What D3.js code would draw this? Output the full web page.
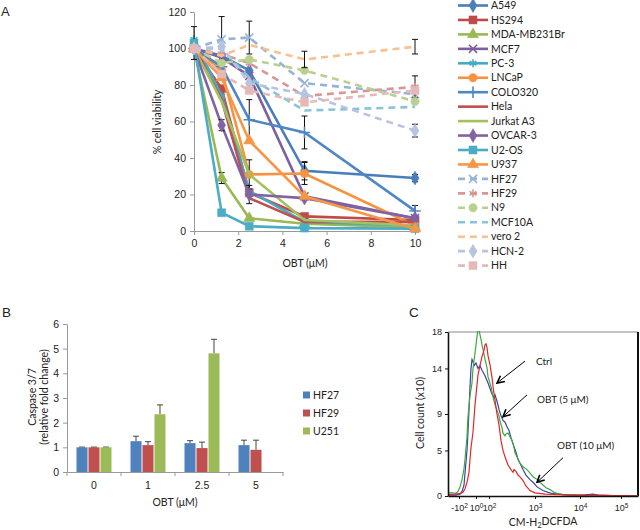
<!DOCTYPE html>
<html>
<head>
<meta charset="utf-8">
<script src="https://cdn.jsdelivr.net/npm/d3@7"></script>
<style>
    body { margin: 0; background: #fff; }
    svg { font-family: Lato, "Liberation Sans", sans-serif; }
</style>
</head>
<body>
<svg id="fig" width="640" height="530"></svg>
<script>
// ---------- Panel A data: % cell viability vs OBT dose ----------
const doses = [0, 1.25, 2.5, 5, 10];
const aXTicks = [0, 2, 4, 6, 8, 10];
const aYTicks = [0, 20, 40, 60, 80, 100, 120];
const cellLines = ["A549", "HS294", "MDA-MB231Br", "MCF7", "PC-3", "LNCaP", "COLO320", "Hela",
    "Jurkat A3", "OVCAR-3", "U2-OS", "U937", "HF27", "HF29", "N9", "MCF10A", "vero 2", "HCN-2", "HH"];
const lineColors = ["#4A7EBB", "#BE4B48", "#98B954", "#7D60A0", "#46AAC5", "#F69240", "#4F86C6", "#C0504D",
    "#A3C25E", "#8064A2", "#4BACC6", "#F79646", "#95B3D7", "#D99694", "#B9D08E", "#86C5D8", "#FAC090", "#B7C3E0", "#E6B9B8"];
const lineMarkers = ["diamond", "square", "triangle", "times", "asterisk", "circle", "plus", null,
    null, "diamond", "square", "triangle", "times", "asterisk", "circle", null, null, "diamond", "square"];
const lineDashed = [false, false, false, false, false, false, false, false,
    false, false, false, false, true, true, true, true, true, true, true];
const viability = [
    [100, 96, 88, 33, 29],    // A549
    [100, 78, 21, 8, 6],      // HS294
    [100, 29, 7, 4, 2],       // MDA-MB231Br
    [100, 95, 85, 19, 7],     // MCF7
    [105, 74, 22, 5, 3],      // PC-3
    [100, 88, 31, 31.5, 3],   // LNCaP
    [100, 90, 61, 54, 11],    // COLO320
    [100, 72, 18, 5, 5],      // Hela
    [100, 71, 31, 6, 3],      // Jurkat A3
    [100, 58, 20, 18, 7],     // OVCAR-3
    [103, 10, 2.6, 1.6, 1.3], // U2-OS
    [100, 84, 49.5, 19, 1.3], // U937
    [100, 105, 106, 81, 75],  // HF27
    [100, 97, 92, 74, 79],    // HF29
    [100, 92, 94, 88, 71],    // N9
    [100, 100, 84, 66, 68],   // MCF10A
    [100, 96, 102, 94, 101],  // vero 2
    [100, 101, 81, 75, 55],   // HCN-2
    [100, 86, 77, 70.5, 77]   // HH
];
const viabilityErr = [
    [0, 0, 0, 5, 2], [0, 0, 0, 0, 0], [0, 3, 0, 0, 0], [0, 0, 0, 0, 0], [0, 0, 0, 0, 0],
    [0, 0, 8, 6, 0], [0, 0, 11, 9, 3], [0, 0, 0, 0, 0], [0, 0, 0, 0, 0], [0, 3, 5, 0, 0],
    [9, 0, 0, 0, 0], [0, 0, 0, 0, 0], [0, 12.5, 9, 0, 0], [0, 0, 0, 0, 6], [0, 0, 0, 0, 0],
    [0, 0, 0, 0, 0], [0, 0, 0, 4.5, 4], [0, 0, 0, 0, 3.5], [0, 0, 0, 0, 0]
];

// ---------- Panel B data: caspase 3/7 fold change ----------
const bDoses = ["0", "1", "2.5", "5"];
const bSeries = ["HF27", "HF29", "U251"];
const bColors = ["#4F81BD", "#C0504D", "#9BBB59"];
const bYTicks = [0, 1, 2, 3, 4, 5, 6];
const caspase = [
    [1.0, 1.25, 1.17, 1.09],
    [1.0, 1.09, 0.97, 0.9],
    [1.0, 2.34, 4.81, null]
];
const caspaseErr = [
    [0.01, 0.2, 0.1, 0.2],
    [0.01, 0.14, 0.24, 0.39],
    [0.01, 0.38, 0.57, null]
];

// ---------- Panel C data: flow histograms (display channel, count x10) ----------
const cYTicks = [0, 5, 9, 14, 18];
const cXTicks = [11, 28, 41, 87, 132, 173];
const cXTickLabels = [["-10", "2"], ["10", "0"], ["10", "2"], ["10", "3"], ["10", "4"], ["10", "5"]];
const histBlue = [[0, 0.1], [8, 0.1], [12, 0.2], [14, 0.5], [16, 1.2], [17, 2.5], [19, 5], [20, 7], [21, 9.5],
    [22, 12], [23, 14], [24, 15], [25, 14.8], [26, 14.3], [28, 14.6], [30, 14], [32, 14.3], [34, 13.8],
    [37, 13.2], [40, 12.4], [42, 11.8], [44, 11.2], [46, 10.8], [47, 11.1], [49, 10.4], [51, 9.5],
    [53, 8.8], [55, 8.3], [57, 8.1], [59, 7.6], [61, 7.2], [63, 6.4], [66, 5.4], [68, 4.8], [70, 4],
    [72, 3.6], [75, 2.9], [78, 2.3], [82, 1.8], [86, 1.4], [89, 1], [95, 0.6], [100, 0.4], [105, 0.25],
    [115, 0.15], [125, 0.1], [135, 0.1], [145, 0.2], [150, 0.1], [165, 0.05], [190, 0.02]];
const histGreen = [[0, 0.35], [5, 0.35], [8, 0.3], [10, 0.5], [12, 1], [14, 1.8], [16, 3], [17, 4], [19, 6.5],
    [20, 8.7], [22, 11], [24, 12.4], [25, 14], [27, 15.7], [29, 17.5], [30, 18.3], [31, 18.2], [33, 17.2],
    [34, 16.6], [36, 15.6], [37, 15], [39, 14.1], [40, 13.1], [43, 12], [45, 10.9], [47, 10], [49, 9.4],
    [51, 8.8], [52, 8.2], [54, 7.5], [55, 6.9], [57, 6.6], [58, 6.8], [60, 6.9], [62, 6.5], [64, 6.1],
    [66, 5.4], [67, 4.7], [69, 4.3], [72, 3.6], [75, 3.2], [79, 2.9], [83, 2.4], [85, 2.1], [88, 1.9],
    [90, 1.8], [92, 1.5], [95, 1.2], [98, 0.9], [102, 0.7], [106, 0.4], [109, 0.3], [115, 0.15],
    [125, 0.1], [140, 0.05], [190, 0.02]];
const histRed = [[0, 0.15], [7, 0.2], [12, 0.25], [15, 0.4], [17, 0.8], [19, 1.5], [21, 2.6], [22, 4],
    [23, 5.3], [25, 7], [27, 10], [29, 12.2], [30, 13.3], [32, 14.3], [34, 15.3], [36, 16], [37, 16.6],
    [38, 16.7], [39, 16.3], [40, 15.4], [42, 14.4], [44, 13], [45, 12], [47, 10.5], [49, 9], [51, 7.8],
    [53, 6.1], [55, 5], [57, 4.3], [60, 3.4], [63, 2.9], [65, 2.6], [66, 2.9], [68, 2.7], [70, 2.3],
    [72, 2.1], [75, 1.7], [78, 1.1], [82, 0.6], [87, 0.35], [97, 0.2], [112, 0.15], [130, 0.1],
    [150, 0.1], [165, 0.05], [190, 0.02]];
// arrows: [tail, head] in (channel, count), label position
const cArrows = [
    { text: "Ctrl", from: [77, 14.8], to: [49, 12.4], at: [88, 14.8] },
    { text: "OBT (5 μM)", from: [79, 11.1], to: [55, 8.7], at: [89, 10.6] },
    { text: "OBT (10 μM)", from: [115, 4.2], to: [89, 1.5], at: [109, 5.5] }
];

const svg = d3.select("#fig");

const symbolMap = {
    diamond: d3.symbolDiamond,
    square: d3.symbolSquare,
    triangle: d3.symbolTriangle,
    circle: d3.symbolCircle,
    times: d3.symbolTimes || d3.symbolCross,
    asterisk: d3.symbolAsterisk || d3.symbolCross,
    plus: d3.symbolPlus || d3.symbolCross
};
const strokeSymbols = ["times", "asterisk", "plus"];

function drawMarker(g, kind, x, y, color) {
    const isStroke = strokeSymbols.includes(kind);
    const size = kind === "square" ? 64 : (kind === "diamond" ? 55 : (isStroke ? 45 : 55));
    g.append("path")
        .attr("d", d3.symbol().type(symbolMap[kind]).size(size)())
        .attr("transform", `translate(${x},${y})`)
        .attr("fill", isStroke ? "none" : color)
        .attr("stroke", color)
        .attr("stroke-width", isStroke ? 1.6 : 0.5);
}

function styleAxis(g, color, fontSize) {
    g.select(".domain").attr("stroke", color);
    g.selectAll(".tick line").attr("stroke", color);
    g.selectAll(".tick text").attr("fill", "#222").attr("font-size", fontSize).attr("font-family", null);
}

// ======================= Panel A =======================
const xA = d3.scaleLinear().domain([0, 10]).range([194, 415]);
const yA = d3.scaleLinear().domain([0, 120]).range([231, 12]);
const gA = svg.append("g");

gA.append("g")
    .attr("transform", "translate(0,231)")
    .call(d3.axisBottom(xA).tickValues(aXTicks).tickSize(4).tickPadding(5).tickSizeOuter(0))
    .call(g => styleAxis(g, "#999", 10.5));
gA.append("g")
    .attr("transform", "translate(194,0)")
    .call(d3.axisLeft(yA).tickValues(aYTicks).tickSize(4).tickPadding(4).tickSizeOuter(0))
    .call(g => styleAxis(g, "#999", 10.5));

gA.append("text").attr("x", 305).attr("y", 267).attr("text-anchor", "middle")
    .attr("font-size", 10.5).attr("fill", "#222").text("OBT (μM)");
gA.append("text").attr("transform", "translate(161,122) rotate(-90)").attr("text-anchor", "middle")
    .attr("font-size", 10.5).attr("fill", "#222").text("% cell viability");
svg.append("text").attr("x", 1).attr("y", 16).attr("font-family", "Liberation Sans, Arial, sans-serif")
    .attr("font-size", 13).attr("fill", "#222").text("A");

const lineA = d3.line().x((d, i) => xA(doses[i])).y(d => yA(d));
cellLines.forEach((name, k) => {
    const g = gA.append("g");
    const vals = viability[k];
    g.append("path")
        .attr("d", lineA(vals))
        .attr("fill", "none")
        .attr("stroke", lineColors[k])
        .attr("stroke-width", 2.6)
        .attr("stroke-dasharray", lineDashed[k] ? "7,5" : null);
    vals.forEach((v, i) => {
        const e = viabilityErr[k][i];
        if (!e) return;
        const x = xA(doses[i]);
        g.append("path")
            .attr("d", `M${x},${yA(v - e)}V${yA(v + e)}M${x - 3},${yA(v - e)}h6M${x - 3},${yA(v + e)}h6`)
            .attr("stroke", "#111").attr("stroke-width", 1).attr("fill", "none");
    });
    if (lineMarkers[k]) {
        vals.forEach((v, i) => drawMarker(g, lineMarkers[k], xA(doses[i]), yA(v), lineColors[k]));
    }
});

// legend for A
const legA = svg.append("g");
cellLines.forEach((name, k) => {
    const y = 5.5 + k * 14.45;
    legA.append("line")
        .attr("x1", 458).attr("x2", 488).attr("y1", y).attr("y2", y)
        .attr("stroke", lineColors[k]).attr("stroke-width", 2.6)
        .attr("stroke-dasharray", lineDashed[k] ? "7,5" : null);
    if (lineMarkers[k]) drawMarker(legA, lineMarkers[k], 473, y, lineColors[k]);
    legA.append("text").attr("x", 491).attr("y", y).attr("dy", "0.35em")
        .attr("font-size", 10.5).attr("fill", "#222").text(name);
});

// ======================= Panel B =======================
const xB = d3.scaleBand().domain(bDoses).range([67, 283]);
const xBInner = d3.scaleBand().domain(bSeries).range([9.5, 44.5]).paddingInner(0.08);
const yB = d3.scaleLinear().domain([0, 6]).range([472, 324]);
const gB = svg.append("g");

gB.append("g")
    .attr("transform", "translate(67,0)")
    .call(d3.axisLeft(yB).tickValues(bYTicks).tickFormat(d3.format("d")).tickSize(4).tickPadding(4).tickSizeOuter(0))
    .call(g => styleAxis(g, "#999", 10.5));
const xAxisB = gB.append("g")
    .attr("transform", "translate(0,472)")
    .call(d3.axisBottom(xB).tickSize(0).tickPadding(10).tickSizeOuter(0))
    .call(g => styleAxis(g, "#999", 10.5));
// category boundary ticks, as Excel draws them
xAxisB.selectAll(".bound").data(bDoses.concat(["end"])).join("line")
    .attr("class", "bound")
    .attr("x1", (d, i) => 67 + i * xB.step()).attr("x2", (d, i) => 67 + i * xB.step())
    .attr("y1", 0).attr("y2", 4).attr("stroke", "#999");

bSeries.forEach((s, k) => {
    bDoses.forEach((d, i) => {
        const v = caspase[k][i];
        if (v == null) return;
        const x0 = xB(d) + xBInner(s);
        const w = xBInner.bandwidth();
        const e = caspaseErr[k][i];
        const cx = x0 + w / 2;
        gB.append("path")
            .attr("d", `M${cx},${yB(v)}V${yB(v + e)}M${cx - 3},${yB(v + e)}h6`)
            .attr("stroke", "#444").attr("stroke-width", 1).attr("fill", "none");
        gB.append("rect")
            .attr("x", x0).attr("y", yB(v)).attr("width", w).attr("height", yB(0) - yB(v))
            .attr("fill", bColors[k]);
    });
});

gB.append("text").attr("x", 175).attr("y", 506).attr("text-anchor", "middle")
    .attr("font-size", 10.5).attr("fill", "#222").text("OBT (μM)");
gB.append("text").attr("transform", "translate(36,397) rotate(-90)").attr("text-anchor", "middle")
    .attr("font-size", 10.5).attr("fill", "#222").text("Caspase 3/7");
gB.append("text").attr("transform", "translate(48,397) rotate(-90)").attr("text-anchor", "middle")
    .attr("font-size", 10.5).attr("fill", "#222").text("(relative fold change)");
svg.append("text").attr("x", 2).attr("y", 317).attr("font-family", "Liberation Sans, Arial, sans-serif")
    .attr("font-size", 13.5).attr("fill", "#222").text("B");

bSeries.forEach((s, k) => {
    const y = 395 + k * 18;
    gB.append("rect").attr("x", 303).attr("y", y - 3.5).attr("width", 7).attr("height", 7).attr("fill", bColors[k]);
    gB.append("text").attr("x", 313).attr("y", y).attr("dy", "0.35em")
        .attr("font-size", 10.5).attr("fill", "#222").text(s);
});

// ======================= Panel C =======================
const xC = d3.scaleLinear().domain([0, 190]).range([448, 638]);
const yC = d3.scaleLinear().domain([0, 18]).range([496, 332]);
const gC = svg.append("g");

gC.append("defs").append("clipPath").attr("id", "clipC")
    .append("rect").attr("x", 448).attr("y", 331).attr("width", 190).attr("height", 165);
gC.select("defs").append("marker")
    .attr("id", "arrowHead").attr("viewBox", "0 0 10 10").attr("refX", 9).attr("refY", 5)
    .attr("markerWidth", 9).attr("markerHeight", 9).attr("markerUnits", "userSpaceOnUse")
    .attr("orient", "auto")
    .append("path").attr("d", "M1,1L9,5L1,9").attr("fill", "none").attr("stroke", "#000").attr("stroke-width", 1.8);

// frame
gC.append("line").attr("x1", 448).attr("x2", 638).attr("y1", 332).attr("y2", 332).attr("stroke", "#888").attr("stroke-width", 1);
gC.append("line").attr("x1", 638).attr("x2", 638).attr("y1", 332).attr("y2", 496).attr("stroke", "#111").attr("stroke-width", 2);

const histLine = d3.line().x(d => xC(d[0])).y(d => yC(d[1]));
const histG = gC.append("g").attr("clip-path", "url(#clipC)");
[[histBlue, "#3B45A8"], [histGreen, "#3FA83C"], [histRed, "#E3262B"]].forEach(([data, color]) => {
    histG.append("path").attr("d", histLine(data)).attr("fill", "none")
        .attr("stroke", color).attr("stroke-width", 1.2);
});

gC.append("g")
    .attr("transform", "translate(448,0)")
    .call(d3.axisLeft(yC).tickValues(cYTicks).tickSize(3).tickPadding(3).tickSizeOuter(0))
    .call(g => styleAxis(g, "#111", 9))
    .call(g => g.select(".domain").attr("stroke-width", 1.6));
const xAxisC = gC.append("g")
    .attr("transform", "translate(0,496)")
    .call(d3.axisBottom(xC).tickValues(cXTicks).tickSize(3).tickPadding(6).tickSizeOuter(0))
    .call(g => styleAxis(g, "#111", 9))
    .call(g => g.select(".domain").attr("stroke-width", 1.6));
xAxisC.selectAll(".tick text").each(function (d, i) {
    const t = d3.select(this).text("");
    t.append("tspan").text(cXTickLabels[i][0]);
    t.append("tspan").attr("dy", "-0.5em").attr("font-size", 6.5).text(cXTickLabels[i][1]);
});

cArrows.forEach(a => {
    gC.append("line")
        .attr("x1", xC(a.from[0])).attr("y1", yC(a.from[1]))
        .attr("x2", xC(a.to[0])).attr("y2", yC(a.to[1]))
        .attr("stroke", "#000").attr("stroke-width", 1).attr("marker-end", "url(#arrowHead)");
    gC.append("text").attr("x", xC(a.at[0])).attr("y", yC(a.at[1])).attr("dy", "0.35em")
        .attr("font-size", 10).attr("fill", "#222").text(a.text);
});

const cmLabel = gC.append("text").attr("x", 543).attr("y", 526).attr("text-anchor", "middle")
    .attr("font-size", 10.5).attr("fill", "#222");
cmLabel.append("tspan").text("CM-H");
cmLabel.append("tspan").attr("dy", "0.3em").attr("font-size", 7).text("2");
cmLabel.append("tspan").attr("dy", "-0.3em").text("DCFDA");
gC.append("text").attr("transform", "translate(424,413) rotate(-90)").attr("text-anchor", "middle")
    .attr("font-size", 10.5).attr("fill", "#222").text("Cell count (x10)");
svg.append("text").attr("x", 409).attr("y", 317).attr("font-family", "Liberation Sans, Arial, sans-serif")
    .attr("font-size", 13.5).attr("fill", "#222").text("C");
</script>
</body>
</html>
